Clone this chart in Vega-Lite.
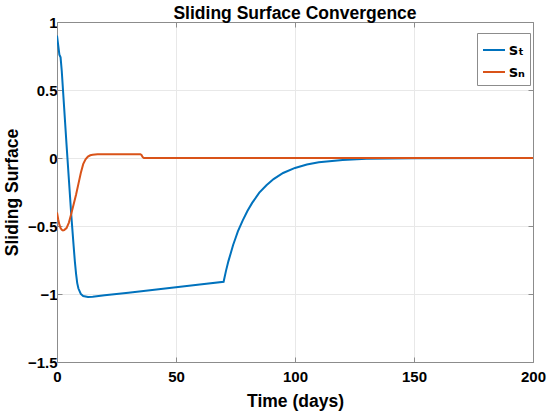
{
  "$schema": "https://vega.github.io/schema/vega-lite/v6.json",
  "width": 476,
  "height": 340,
  "autosize": {"type": "none"},
  "padding": {"left": 57, "top": 22, "right": 17, "bottom": 52},
  "title": {
    "text": "Sliding Surface Convergence",
    "fontSize": 17.5,
    "fontWeight": "bold",
    "font": "Liberation Sans",
    "color": "#000000",
    "offset": 4,
    "dy": 11
  },
  "data": {
    "values": [
      {"t": 0, "s": 0.90, "series": "sₜ"},
      {"t": 0.5, "s": 0.83, "series": "sₜ"},
      {"t": 1, "s": 0.76, "series": "sₜ"},
      {"t": 1.5, "s": 0.74, "series": "sₜ"},
      {"t": 2, "s": 0.64, "series": "sₜ"},
      {"t": 3, "s": 0.37, "series": "sₜ"},
      {"t": 4, "s": 0.10, "series": "sₜ"},
      {"t": 5, "s": -0.16, "series": "sₜ"},
      {"t": 6, "s": -0.42, "series": "sₜ"},
      {"t": 7, "s": -0.65, "series": "sₜ"},
      {"t": 7.5, "s": -0.76, "series": "sₜ"},
      {"t": 8, "s": -0.85, "series": "sₜ"},
      {"t": 8.5, "s": -0.92, "series": "sₜ"},
      {"t": 9, "s": -0.96, "series": "sₜ"},
      {"t": 10, "s": -1.0, "series": "sₜ"},
      {"t": 11, "s": -1.015, "series": "sₜ"},
      {"t": 13, "s": -1.022, "series": "sₜ"},
      {"t": 15, "s": -1.02, "series": "sₜ"},
      {"t": 20, "s": -1.01, "series": "sₜ"},
      {"t": 30, "s": -0.99, "series": "sₜ"},
      {"t": 40, "s": -0.97, "series": "sₜ"},
      {"t": 50, "s": -0.95, "series": "sₜ"},
      {"t": 60, "s": -0.93, "series": "sₜ"},
      {"t": 70, "s": -0.91, "series": "sₜ"},
      {"t": 71, "s": -0.83, "series": "sₜ"},
      {"t": 72, "s": -0.76, "series": "sₜ"},
      {"t": 73, "s": -0.70, "series": "sₜ"},
      {"t": 74, "s": -0.64, "series": "sₜ"},
      {"t": 75, "s": -0.59, "series": "sₜ"},
      {"t": 76, "s": -0.54, "series": "sₜ"},
      {"t": 78, "s": -0.46, "series": "sₜ"},
      {"t": 80, "s": -0.39, "series": "sₜ"},
      {"t": 82, "s": -0.33, "series": "sₜ"},
      {"t": 85, "s": -0.255, "series": "sₜ"},
      {"t": 88, "s": -0.20, "series": "sₜ"},
      {"t": 91, "s": -0.155, "series": "sₜ"},
      {"t": 95, "s": -0.11, "series": "sₜ"},
      {"t": 100, "s": -0.073, "series": "sₜ"},
      {"t": 105, "s": -0.048, "series": "sₜ"},
      {"t": 110, "s": -0.031, "series": "sₜ"},
      {"t": 120, "s": -0.014, "series": "sₜ"},
      {"t": 130, "s": -0.006, "series": "sₜ"},
      {"t": 140, "s": -0.003, "series": "sₜ"},
      {"t": 150, "s": -0.001, "series": "sₜ"},
      {"t": 200, "s": 0, "series": "sₜ"},
      {"t": 0, "s": -0.40, "series": "sₙ"},
      {"t": 0.5, "s": -0.45, "series": "sₙ"},
      {"t": 1, "s": -0.49, "series": "sₙ"},
      {"t": 1.5, "s": -0.515, "series": "sₙ"},
      {"t": 2, "s": -0.528, "series": "sₙ"},
      {"t": 2.5, "s": -0.533, "series": "sₙ"},
      {"t": 3, "s": -0.53, "series": "sₙ"},
      {"t": 4, "s": -0.515, "series": "sₙ"},
      {"t": 5, "s": -0.475, "series": "sₙ"},
      {"t": 6, "s": -0.41, "series": "sₙ"},
      {"t": 7, "s": -0.34, "series": "sₙ"},
      {"t": 8, "s": -0.27, "series": "sₙ"},
      {"t": 9, "s": -0.19, "series": "sₙ"},
      {"t": 10, "s": -0.11, "series": "sₙ"},
      {"t": 11, "s": -0.045, "series": "sₙ"},
      {"t": 12, "s": -0.01, "series": "sₙ"},
      {"t": 13, "s": 0.01, "series": "sₙ"},
      {"t": 14, "s": 0.02, "series": "sₙ"},
      {"t": 15, "s": 0.024, "series": "sₙ"},
      {"t": 17, "s": 0.027, "series": "sₙ"},
      {"t": 25, "s": 0.028, "series": "sₙ"},
      {"t": 35, "s": 0.028, "series": "sₙ"},
      {"t": 35.5, "s": 0.022, "series": "sₙ"},
      {"t": 36, "s": 0.006, "series": "sₙ"},
      {"t": 36.5, "s": 0.0, "series": "sₙ"},
      {"t": 100, "s": 0.0, "series": "sₙ"},
      {"t": 200, "s": 0.0, "series": "sₙ"}
    ]
  },
  "layer": [
    {
      "mark": {"type": "line", "strokeWidth": 2, "clip": true},
      "encoding": {
        "x": {
          "field": "t",
          "type": "quantitative",
          "scale": {"domain": [0, 200], "nice": false},
          "axis": {
            "title": "Time (days)",
            "values": [0, 50, 100, 150, 200],
            "labelPadding": 12,
            "titlePadding": 8
          }
        },
        "y": {
          "field": "s",
          "type": "quantitative",
          "scale": {"domain": [-1.5, 1], "nice": false, "zero": false},
          "axis": {
            "title": "Sliding Surface",
            "values": [-1.5, -1, -0.5, 0, 0.5, 1],
            "format": "~g",
            "labelPadding": 5,
            "titlePadding": 6
          }
        },
        "color": {
          "field": "series",
          "type": "nominal",
          "scale": {"domain": ["sₜ", "sₙ"], "range": ["#0072BD", "#D95319"]},
          "legend": {
            "title": null,
            "orient": "none",
            "legendX": 420,
            "legendY": 11,
            "symbolType": "stroke",
            "symbolSize": 484,
            "symbolStrokeWidth": 2,
            "labelFontSize": 15,
            "labelFontWeight": "bold",
            "labelFont": "DejaVu Sans",
            "labelColor": "#000000",
            "labelOffset": 3,
            "rowPadding": 2,
            "padding": 5,
            "strokeColor": "#8c8c8c",
            "fillColor": "#ffffff"
          }
        },
        "detail": {"field": "series"}
      }
    },
    {
      "mark": {"type": "line", "opacity": 0},
      "encoding": {
        "x": {
          "field": "t",
          "type": "quantitative",
          "axis": {"orient": "top", "title": null, "labels": false, "grid": false, "values": [0, 50, 100, 150, 200]}
        },
        "y": {
          "field": "s",
          "type": "quantitative",
          "axis": {"orient": "right", "title": null, "labels": false, "grid": false, "values": [-1.5, -1, -0.5, 0, 0.5, 1]}
        },
        "detail": {"field": "series"}
      }
    }
  ],
  "resolve": {"axis": {"x": "independent", "y": "independent"}},
  "config": {
    "font": "Liberation Sans",
    "view": {"stroke": null},
    "axis": {
      "labelFont": "Liberation Sans",
      "titleFont": "Liberation Sans",
      "labelFontSize": 15,
      "labelFontWeight": "bold",
      "labelColor": "#000000",
      "titleFontSize": 17.5,
      "titleFontWeight": "bold",
      "titleColor": "#000000",
      "domainColor": "#8c8c8c",
      "tickColor": "#8c8c8c",
      "tickSize": -5,
      "gridColor": "#e8e8e8",
      "labelFlush": false
    }
  }
}
